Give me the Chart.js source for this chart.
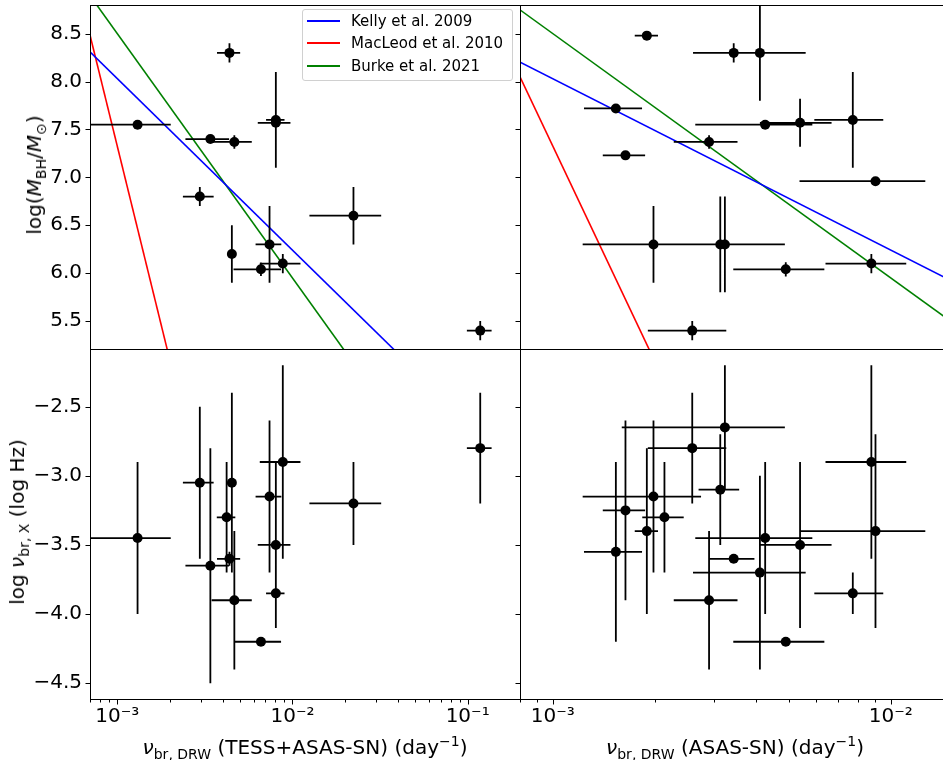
<!DOCTYPE html>
<html>
<head>
<meta charset="utf-8">
<script src="https://cdn.jsdelivr.net/npm/chart.js@4.4.1/dist/chart.umd.min.js"></script>
<style>
  html, body { margin: 0; padding: 0; background: #fff; }
  #fig { position: relative; width: 943px; height: 760px; overflow: hidden; background: #fff; font-family: 'DejaVu Sans', sans-serif; color: #000; }
  #fig canvas { position: absolute; left: 0; top: 0; }
  .lbl { position: absolute; white-space: nowrap; font-size: 20px; line-height: 20px; }
  .lbl sub { font-size: 70%; vertical-align: -0.35em; line-height: 0; }
  .lbl sup { font-size: 70%; vertical-align: 0.6em; line-height: 0; }
  .xlab { transform: translateX(-50%); }
  .ylab { transform: translate(-50%, -50%) rotate(-90deg); }
  #legend { position: absolute; left: 302px; top: 9px; width: 209px; height: 70px; border: 1px solid #d0d0d0; border-radius: 3px; background: rgba(255,255,255,0.8); font-size: 15px; }
  #legend .row { height: 22.3px; display: flex; align-items: center; }
  #legend .sw { display: inline-block; width: 33px; margin: 0 11px 0 4px; border-top: 2px solid; }
</style>
</head>
<body>
<div id="fig">
  <canvas id="tl" width="960" height="760"></canvas>
  <canvas id="tr" width="960" height="760"></canvas>
  <canvas id="bl" width="960" height="760"></canvas>
  <canvas id="br" width="960" height="760"></canvas>

  <div class="lbl ylab" style="left:34px; top:175px">log(<i>M</i><sub>BH</sub>/<i>M</i><sub>⊙</sub>)</div>
  <div class="lbl ylab" style="left:17px; top:522px">log <i>ν</i><sub>br, X</sub> (log Hz)</div>
  <div class="lbl xlab" style="left:305px; top:737px"><i>ν</i><sub>br, DRW</sub> (TESS+ASAS-SN) (day<sup>−1</sup>)</div>
  <div class="lbl xlab" style="left:735px; top:737px"><i>ν</i><sub>br, DRW</sub> (ASAS-SN) (day<sup>−1</sup>)</div>

  <div id="legend">
    <div class="row"><span class="sw" style="border-color:#0000ff"></span>Kelly et al. 2009</div>
    <div class="row"><span class="sw" style="border-color:#ff0000"></span>MacLeod et al. 2010</div>
    <div class="row"><span class="sw" style="border-color:#008000"></span>Burke et al. 2021</div>
  </div>
</div>

<script>
// TESS+ASAS-SN sample (left column), DRW break frequency in day^-1
const nuDrwTess    = [1.306e-3, 2.96e-3, 3.40e-3, 4.21e-3, 4.37e-3, 4.51e-3, 4.66e-3, 6.61e-3, 7.40e-3, 8.04e-3, 8.04e-3, 8.81e-3, 0.0223, 0.118]
const nuDrwTessErr = [0.714e-3, 0.59e-3, 0.95e-3, 0.51e-3, 0.66e-3, 0, 1.2e-3, 2.0e-3, 1.24e-3, 0.97e-3, 1.7e-3, 2.3e-3, 0.0098, 0.019]
const mbhTess      = [7.55, 6.8, 7.40, null, 8.3, 6.2, 7.37, 6.04, 6.3, 7.6, 7.57, 6.1, 6.6, 5.4]
const mbhTessErr   = [0, 0.1, 0, null, 0.1, 0.3, 0.07, 0.07, 0.4, 0.5, 0.24, 0.1, 0.3, 0.1]
const nuXTess      = [-3.45, -3.05, -3.65, -3.30, -3.60, -3.05, -3.90, -4.20, -3.15, -3.85, -3.50, -2.90, -3.20, -2.80]
const nuXTessErr   = [0.55, 0.55, 0.85, 0.4, 0.05, 0.65, 0.5, 0.02, 0.55, 0.15, 0.6, 0.7, 0.3, 0.4]

// ASAS-SN only sample (right column)
const nuDrwAsas    = [1.898e-3, 3.43e-3, 4.10e-3, 1.537e-3, 4.25e-3, 5.39e-3, 7.72e-3, 2.90e-3, 1.641e-3, 9.01e-3, 1.986e-3, 3.13e-3, 3.23e-3, 4.89e-3, 8.76e-3, 2.586e-3, 2.14e-3]
const nuDrwAsasErr = [0.15e-3, 0.52e-3, 1.5e-3, 0.30e-3, 1.61e-3, 1.29e-3, 1.78e-3, 0.62e-3, 0.235e-3, 3.64e-3, 0.76e-3, 0.43e-3, 1.63e-3, 1.47e-3, 2.35e-3, 0.675e-3, 0.30e-3]
const mbhAsas      = [8.48, 8.3, 8.3, 7.72, 7.55, 7.57, 7.6, 7.37, 7.23, 6.96, 6.3, 6.3, 6.3, 6.04, 6.1, 5.4, null]
const mbhAsasErr   = [0, 0.1, 0.5, 0, 0, 0.25, 0.5, 0.07, 0, 0, 0.4, 0.5, 0.5, 0.075, 0.1, 0.1, null]
const nuXAsas      = [-3.4, -3.6, -3.7, -3.55, -3.45, -3.5, -3.85, -3.9, -3.25, -3.4, -3.15, -3.1, -2.65, -4.2, -2.9, -2.8, -3.3]
const nuXAsasErr   = [0.6, 0.02, 0.7, 0.65, 0.55, 0.6, 0.15, 0.5, 0.65, 0.7, 0.55, 0.4, 0.45, 0.02, 0.7, 0.4, 0.4]

// mass - break frequency relations (end points of each straight line)
const modelNu    = [5e-4, 0.2]
const kellyMbh   = [8.57, 3.91]
const macleodMbh = [9.57, -9.81]
const burkeMbh   = [9.27, 2.63]

const mbhTicks       = [5.5, 6.0, 6.5, 7.0, 7.5, 8.0, 8.5]
const nuXTicks       = [-4.5, -4.0, -3.5, -3.0, -2.5]
const nuDrwTicksTess = [1e-3, 1e-2, 1e-1]
const nuDrwTicksAsas = [1e-3, 1e-2]

const font = { family: 'DejaVu Sans', size: 20 }
const supChars = { '-': '\u207B', '0': '\u2070', '1': '\u00B9', '2': '\u00B2', '3': '\u00B3', '4': '\u2074' }
const powLabel = v => '10' + [...String(Math.round(Math.log10(v)))].map(c => supChars[c]).join('')
const decLabel = v => v.toFixed(1).replace('-', '\u2212')

const toPoints = (xs, xErr, ys, yErr) => xs
  .map((x, i) => ({ x, y: ys[i], xe: xErr[i], ye: yErr[i] }))
  .filter(p => p.y !== null)

const line = (ys, color) => ({
  type: 'line',
  data: modelNu.map((x, i) => ({ x, y: ys[i] })),
  borderColor: color,
  borderWidth: 1.6,
  pointRadius: 0,
  fill: false,
  clip: 0,
  order: 2
})

const errorBars = {
  id: 'errorBars',
  beforeDatasetDraw(chart, args) {
    const ds = chart.data.datasets[args.index]
    if (!ds.errorBars) return
    const { ctx, chartArea: a, scales: { x, y } } = chart
    ctx.save()
    ctx.beginPath()
    ctx.rect(a.left, a.top, a.width, a.height)
    ctx.clip()
    ctx.strokeStyle = '#000'
    ctx.lineWidth = 1.8
    ctx.beginPath()
    ds.data.forEach(p => {
      const px = x.getPixelForValue(p.x)
      const py = y.getPixelForValue(p.y)
      if (p.xe) {
        ctx.moveTo(x.getPixelForValue(Math.max(p.x - p.xe, x.min / 10)), py)
        ctx.lineTo(x.getPixelForValue(p.x + p.xe), py)
      }
      if (p.ye) {
        ctx.moveTo(px, y.getPixelForValue(p.y - p.ye))
        ctx.lineTo(px, y.getPixelForValue(p.y + p.ye))
      }
    })
    ctx.stroke()
    ctx.restore()
  }
}

// box around the axes plus outward ticks, like matplotlib spines
const frame = (yTicks, xTicks) => ({
  id: 'frame',
  afterDraw(chart) {
    const { ctx, chartArea: a, scales: { x, y } } = chart
    ctx.save()
    ctx.strokeStyle = '#000'
    ctx.lineWidth = 1
    ctx.beginPath()
    yTicks.forEach(v => {
      const p = Math.round(y.getPixelForValue(v)) + 0.5
      ctx.moveTo(a.left - 4.5, p)
      ctx.lineTo(a.left + 0.5, p)
    })
    if (xTicks) {
      for (let e = Math.floor(Math.log10(x.min)); e <= Math.ceil(Math.log10(x.max)); e++) {
        for (let k = 1; k < 10; k++) {
          const v = k * Math.pow(10, e)
          if (v < x.min || v > x.max) continue
          const p = Math.round(x.getPixelForValue(v)) + 0.5
          ctx.moveTo(p, a.bottom + 0.5)
          ctx.lineTo(p, a.bottom + 0.5 + (k === 1 ? 5 : 3))
        }
      }
    }
    ctx.stroke()
    ctx.strokeRect(a.left + 0.5, a.top + 0.5, a.width, a.height)
    ctx.restore()
  }
})

const panel = (id, cfg) => new Chart(document.getElementById(id), {
  type: 'scatter',
  data: {
    datasets: [
      {
        data: cfg.points,
        errorBars: true,
        pointRadius: 5,
        pointBackgroundColor: '#000',
        pointBorderWidth: 0,
        order: 0
      },
      ...(cfg.models ? [line(kellyMbh, '#0000ff'), line(macleodMbh, '#ff0000'), line(burkeMbh, '#008000')] : [])
    ]
  },
  options: {
    responsive: false,
    animation: false,
    events: [],
    layout: { padding: cfg.padding },
    plugins: { legend: { display: false }, tooltip: { enabled: false } },
    scales: {
      x: {
        type: 'logarithmic',
        min: cfg.xRange[0],
        max: cfg.xRange[1],
        display: cfg.showX,
        afterBuildTicks: s => { s.ticks = cfg.xTicks.map(value => ({ value })) },
        afterFit: s => {
          if (!cfg.showX) return
          s.height = 61; s.paddingLeft = 0; s.paddingRight = 0
        },
        grid: { display: false, drawTicks: false },
        border: { display: false },
        ticks: { padding: 6, autoSkip: false, maxRotation: 0, color: '#000', font, callback: powLabel }
      },
      y: {
        min: cfg.yRange[0],
        max: cfg.yRange[1],
        display: cfg.showY,
        afterBuildTicks: s => { s.ticks = cfg.yTicks.map(value => ({ value })) },
        afterFit: s => {
          if (!cfg.showY) return
          s.width = 90; s.paddingTop = 0; s.paddingBottom = 0
        },
        grid: { display: false, drawTicks: false },
        border: { display: false },
        ticks: { padding: 8, color: '#000', font, callback: decLabel }
      }
    }
  },
  plugins: [errorBars, frame(cfg.yTicks, cfg.showX ? cfg.xTicks : null)]
})

const xRangeTess = [6.99e-4, 0.199]
const xRangeAsas = [8.0e-4, 0.01507]
const mbhRange = [5.208, 8.80]
const nuXRange = [-4.614, -2.083]

panel('tl', {
  points: toPoints(nuDrwTess, nuDrwTessErr, mbhTess, mbhTessErr), models: true,
  xRange: xRangeTess, xTicks: nuDrwTicksTess, yRange: mbhRange, yTicks: mbhTicks,
  showX: false, showY: true, padding: { left: 0, top: 1, right: 440, bottom: 411 }
})
panel('tr', {
  points: toPoints(nuDrwAsas, nuDrwAsasErr, mbhAsas, mbhAsasErr), models: true,
  xRange: xRangeAsas, xTicks: nuDrwTicksAsas, yRange: mbhRange, yTicks: mbhTicks,
  showX: false, showY: false, padding: { left: 520, top: 1, right: 9, bottom: 411 }
})
panel('bl', {
  points: toPoints(nuDrwTess, nuDrwTessErr, nuXTess, nuXTessErr), models: false,
  xRange: xRangeTess, xTicks: nuDrwTicksTess, yRange: nuXRange, yTicks: nuXTicks,
  showX: true, showY: true, padding: { left: 0, top: 349, right: 440, bottom: 0 }
})
panel('br', {
  points: toPoints(nuDrwAsas, nuDrwAsasErr, nuXAsas, nuXAsasErr), models: false,
  xRange: xRangeAsas, xTicks: nuDrwTicksAsas, yRange: nuXRange, yTicks: nuXTicks,
  showX: true, showY: false, padding: { left: 520, top: 349, right: 9, bottom: 0 }
})
</script>
</body>
</html>
